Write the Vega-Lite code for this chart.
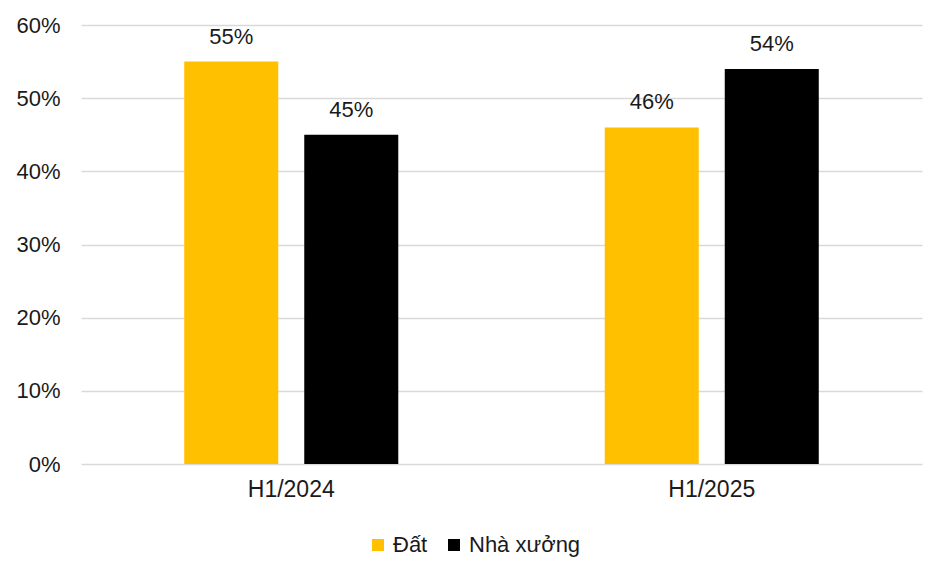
{
  "$schema": "https://vega.github.io/schema/vega-lite/v6.json",
  "width": 841,
  "height": 439,
  "autosize": {"type": "none"},
  "padding": {"left": 81, "top": 25, "right": 18, "bottom": 107},
  "background": "white",
  "config": {
    "font": "Liberation Sans",
    "view": {"stroke": null}
  },
  "data": {
    "values": [
      {"period": "H1/2024", "type": "Đất", "share": 0.55},
      {"period": "H1/2024", "type": "Nhà xưởng", "share": 0.45},
      {"period": "H1/2025", "type": "Đất", "share": 0.46},
      {"period": "H1/2025", "type": "Nhà xưởng", "share": 0.54}
    ]
  },
  "encoding": {
    "x": {
      "field": "period",
      "type": "nominal",
      "scale": {"paddingInner": 0, "paddingOuter": 0},
      "axis": {
        "title": null,
        "labelAngle": 0,
        "labelFont": "Liberation Sans",
        "labelFontSize": 23,
        "labelColor": "#1a1a1a",
        "labelPadding": 14,
        "ticks": false,
        "domain": false
      }
    },
    "xOffset": {
      "field": "type",
      "type": "nominal",
      "sort": ["Đất", "Nhà xưởng"],
      "scale": {"paddingInner": 0.2167, "paddingOuter": 0.86}
    },
    "y": {
      "field": "share",
      "type": "quantitative",
      "scale": {"domain": [0, 0.6]},
      "axis": {
        "title": null,
        "format": ".0%",
        "values": [0, 0.1, 0.2, 0.3, 0.4, 0.5, 0.6],
        "labelOverlap": false,
        "labelFont": "Liberation Sans",
        "labelFontSize": 22,
        "labelColor": "#1a1a1a",
        "labelPadding": 21,
        "ticks": false,
        "domain": false,
        "grid": true,
        "gridColor": "#d9d9d9",
        "gridWidth": 1.5
      }
    }
  },
  "layer": [
    {
      "mark": {"type": "bar"},
      "encoding": {
        "color": {
          "field": "type",
          "type": "nominal",
          "sort": ["Đất", "Nhà xưởng"],
          "scale": {"domain": ["Đất", "Nhà xưởng"], "range": ["#FFC000", "#000000"]},
          "legend": {
            "title": null,
            "orient": "none",
            "direction": "horizontal",
            "legendX": 286,
            "legendY": 509,
            "symbolType": "square",
            "symbolSize": 144,
            "symbolStrokeWidth": 0,
            "labelFont": "Liberation Sans",
            "labelFontSize": 22,
            "labelColor": "#1a1a1a",
            "labelOffset": 4,
            "columnPadding": 15
          }
        }
      }
    },
    {
      "mark": {
        "type": "text",
        "baseline": "alphabetic",
        "dy": -18,
        "font": "Liberation Sans",
        "fontSize": 22,
        "color": "#1a1a1a"
      },
      "encoding": {
        "text": {"field": "share", "type": "quantitative", "format": ".0%"}
      }
    }
  ]
}
